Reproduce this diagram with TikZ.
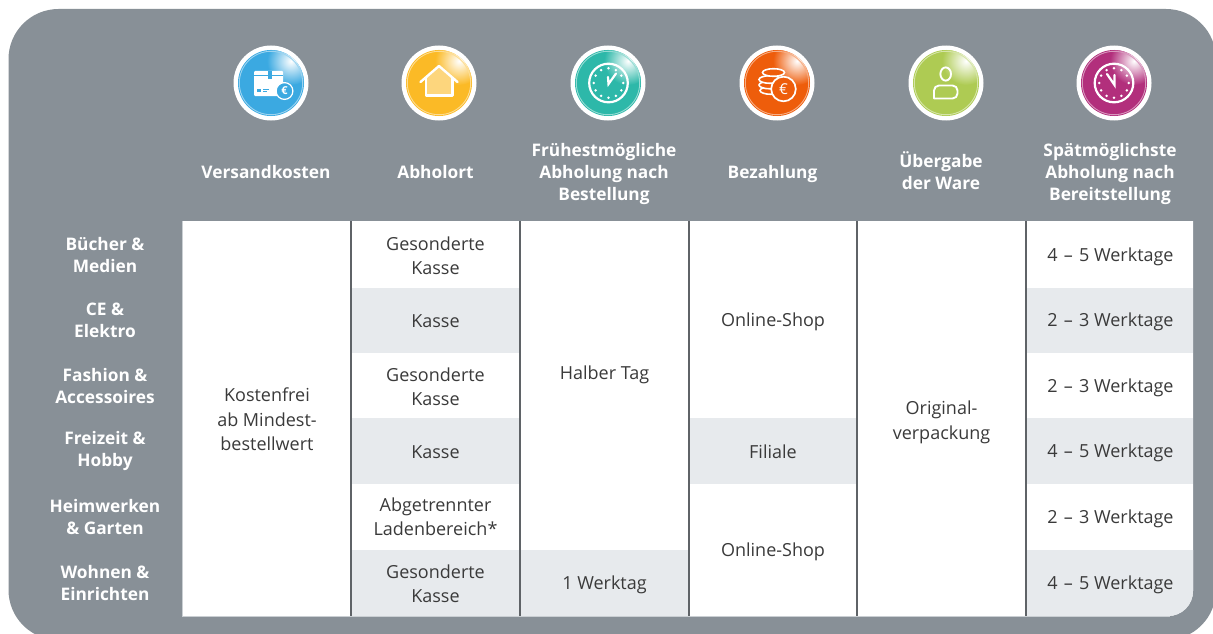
\documentclass[tikz,border=0pt]{standalone}
\usepackage{fontspec}
\setmainfont{Open Sans}
\definecolor{panel}{HTML}{889097}
\definecolor{cellgray}{HTML}{E7EAED}
\definecolor{sep}{HTML}{5F6367}
\definecolor{celltxt}{HTML}{3A3A3A}
\definecolor{icblue}{HTML}{3BA9E1}
\definecolor{icyellow}{HTML}{FBBA26}
\definecolor{icteal}{HTML}{2DB8A9}
\definecolor{icorange}{HTML}{EE5D0B}
\definecolor{icgreen}{HTML}{AECB53}
\definecolor{icmagenta}{HTML}{B22F7C}
\newcommand{\wk}[2]{#1\hspace{1.5pt} –\hspace{1.5pt} #2 Werktage}
\tikzset{
  celltext/.style={text=celltxt,align=center,font=\fontsize{18}{24.4}\selectfont,inner sep=0pt},
  headtext/.style={text=white,align=center,font=\fontsize{17.3}{22}\selectfont\bfseries,inner sep=0pt},
  rowtext/.style={text=white,align=center,font=\fontsize{17.3}{22}\selectfont\bfseries,inner sep=0pt},
  graycell/.style={fill=cellgray},
  colsep/.style={draw=sep,line width=1.2pt},
  iconline/.style={draw=white,line width=2.2pt},
}
\newcommand{\iconbase}[3]{%
  \node[circle,fill=white,minimum size=75pt,inner sep=0pt] (#1) at (#2,83) {};
  \fill[#3] (#2,83) circle[radius=33];
  \begin{scope}
    \clip (#2,83) circle[radius=33];
    \shade[shading=radial,inner color=white,outer color=#3] ($(#2,83)+(20,-22)$) circle[radius=24];
  \end{scope}
  \draw[#3!50!white,line width=.9pt] (#2,83) circle[radius=31.7];
}
\newcommand{\clockicon}[2]{%
  \draw[iconline] (#1,83) circle[radius=19.3];
  \foreach \a in {0,30,...,330}{
    \fill[white] ($(#1,83)+(\a:14.8)$) circle[radius=1.4];
  }
}
\usetikzlibrary{calc}
\begin{document}
\begin{tikzpicture}[x=1pt,y=-1pt]
\useasboundingbox (0,0) rectangle (1213,634);
\fill[white] (0,0) rectangle (1213,634);
% panel
\fill[panel,rounded corners=50pt] (8.5,9) -- (1216,9) -- (1216,640) -- (8.5,640) -- cycle;
% table
\fill[white] (183,221) -- (1193,221) [rounded corners=25pt] -- (1193,616) [sharp corners] -- (183,616) -- cycle;
\fill[graycell] (351,288) rectangle (520,353);
\fill[graycell] (351,418) rectangle (520,484);
\fill[graycell] (351,550) rectangle (520,616);
\fill[graycell] (520,550) rectangle (689,616);
\fill[graycell] (689,418) rectangle (857,484);
\fill[graycell] (1026,288) rectangle (1193,353);
\fill[graycell] (1026,418) rectangle (1193,484);
\fill[graycell] (1026,550) -- (1193,550) [rounded corners=25pt] -- (1193,616) [sharp corners] -- (1026,616) -- cycle;
\draw[cellgray!70!panel,line width=1.2pt] (182.5,221) -- (182.5,616.5) -- (1170,616.5);
% column separators
\foreach \n/\x in {a/351,b/520,c/689,d/857,e/1026}{
  \coordinate (top\n) at (\x,221);
  \coordinate (bot\n) at (\x,616);
  \draw[colsep] (top\n) -- (bot\n);
}
% headers
\node[headtext] (h1) at (266,172) {Versandkosten};
\node[headtext] (h2) at (435.5,172) {Abholort};
\node[headtext] (h3) at (604,174.5) {Frühestmögliche\\Abholung nach\\Bestellung};
\node[headtext] (h4) at (772.5,174) {Bezahlung};
\node[headtext] (h5) at (941,171) {Übergabe\\der Ware};
\node[headtext] (h6) at (1110,174.5) {Spätmöglichste\\Abholung nach\\Bereitstellung};
% row labels
\node[rowtext] (r1) at (105,255.5) {Bücher \&\\Medien};
\node[rowtext] (r2) at (105,320.5) {CE \&\\Elektro};
\node[rowtext] (r3) at (105,386.5) {Fashion \&\\Accessoires};
\node[rowtext] (r4) at (105,451.5) {Freizeit \&\\Hobby};
\node[rowtext] (r5) at (105,517.5) {Heimwerken\\\& Garten};
\node[rowtext] (r6) at (105,583.5) {Wohnen \&\\Einrichten};
% cells
\node[celltext] (c1) at (267,419.5) {Kostenfrei\\ab Mindest-\\bestellwert};
\node[celltext] (a1) at (435.5,256) {Gesonderte\\Kasse};
\node[celltext] (a2) at (435.5,321) {Kasse};
\node[celltext] (a3) at (435.5,387) {Gesonderte\\Kasse};
\node[celltext] (a4) at (435.5,452) {Kasse};
\node[celltext] (a5) at (435.5,517) {Abgetrennter\\Ladenbereich*};
\node[celltext] (a6) at (435.5,584) {Gesonderte\\Kasse};
\node[celltext] (f1) at (604.5,375) {Halber Tag};
\node[celltext] (f2) at (604.5,585) {1 Werktag};
\node[celltext] (b1) at (773,322) {Online-Shop};
\node[celltext] (b2) at (773,452) {Filiale};
\node[celltext] (b3) at (773,552) {Online-Shop};
\node[celltext] (u1) at (941.5,422.5) {Original-\\verpackung};
\node[celltext] (s1) at (1110.5,257) {\wk{4}{5}};
\node[celltext] (s2) at (1110.5,322) {\wk{2}{3}};
\node[celltext] (s3) at (1110.5,387.5) {\wk{2}{3}};
\node[celltext] (s4) at (1110.5,453) {\wk{4}{5}};
\node[celltext] (s5) at (1110.5,519) {\wk{2}{3}};
\node[celltext] (s6) at (1110.5,585) {\wk{4}{5}};
% icon: box
\iconbase{i1}{271}{icblue}
\fill[white,rounded corners=1pt] (254,71) -- (283,71) -- (283,96) -- (254,96) -- cycle;
\fill[icblue] (268,71) rectangle (272,79);
\draw[icblue,line width=.8pt] (254,75.5) -- (268,75.5) (272,75.5) -- (283,75.5);
\fill[icblue] (257,88.5) rectangle (261,92);
\fill[icblue] (262.5,88.5) rectangle (269,90);
\fill[icblue] (262.5,91) rectangle (267,92);
\fill[icblue,draw=white,line width=1.2pt] (284.5,91) circle[radius=8.4];
\node[text=white,font=\fontsize{11}{11}\selectfont\bfseries,inner sep=0pt] (i1e) at (284.5,91) {€};
% icon: house
\iconbase{i2}{439}{icyellow}
\fill[icyellow!60!white] (439,66) -- (452.3,78) -- (452.3,95.5) -- (425.7,95.5) -- (425.7,78) -- cycle;
\draw[white,line width=2.4pt,line cap=round,line join=round] (420.5,82) -- (439,66) -- (457.5,82);
\draw[white,line width=2.4pt,line join=round] (425.7,78) -- (425.7,95.5) -- (452.3,95.5) -- (452.3,78);
% icon: clock teal
\iconbase{i3}{608}{icteal}
\clockicon{608.5}{icteal}
\draw[white,line width=2.2pt,line join=miter,line cap=round] (616,73.5) -- (608.5,84) -- (608,77);
% icon: coins
\iconbase{i4}{777}{icorange}
\foreach \cx/\cy in {771/90.5,770/85,770/79.5,773.5/72.5}{
  \draw[white,fill=icorange,line width=1.6pt] (\cx,\cy) ellipse[x radius=11,y radius=3.8];
}
\draw[white,fill=icorange,line width=1.7pt] (783.5,89) circle[radius=12.3];
\node[text=white,font=\fontsize{15}{15}\selectfont,inner sep=0pt] (i4e) at (783.5,89) {€};
% icon: person
\iconbase{i5}{946}{icgreen}
\draw[white,line width=1.9pt] (945.7,74) ellipse[x radius=5.3,y radius=6.6];
\draw[white,line width=1.9pt,line join=round,rounded corners=5pt] (934,98.5) -- (934,85.5) -- (957.5,85.5) -- (957.5,98.5) [sharp corners] -- cycle;
% icon: clock magenta
\iconbase{i6}{1114}{icmagenta}
\clockicon{1114}{icmagenta}
\draw[white,line width=2.2pt,line cap=round,line join=miter] (1107,74) -- (1114.5,85) -- (1114.5,75);
\end{tikzpicture}
\end{document}
